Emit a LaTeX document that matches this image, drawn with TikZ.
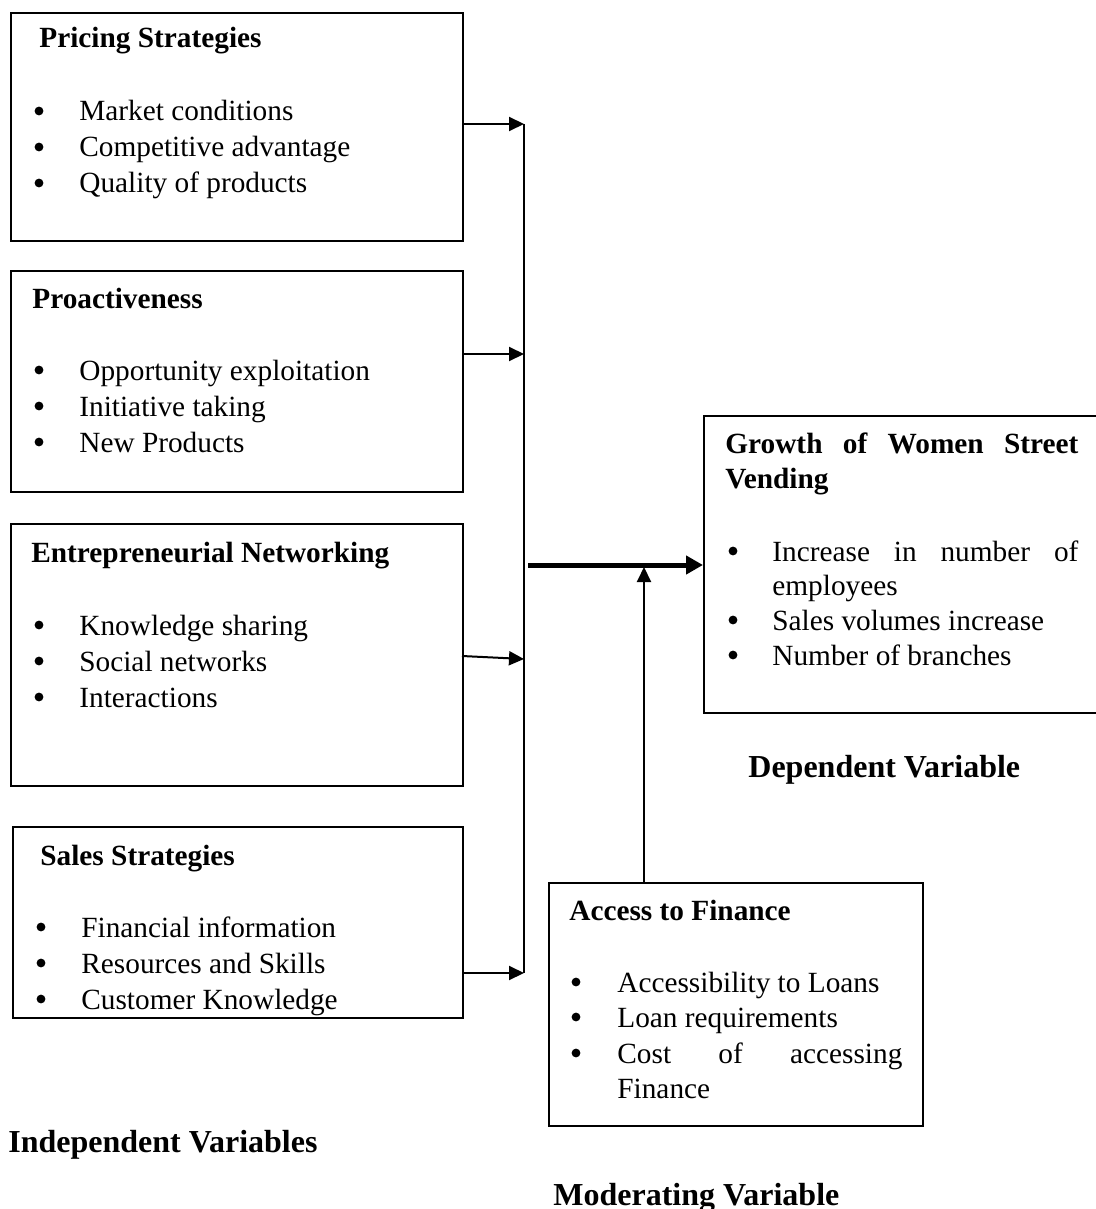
\documentclass[tikz,border=0pt]{standalone}
\usepackage{fontspec}
\setmainfont{Liberation Serif}
\usetikzlibrary{arrows.meta}
\begin{document}
\begin{tikzpicture}[x=0.5pt,y=-0.5pt,
  box/.style={draw,line width=1pt,rectangle,anchor=north west,inner sep=0pt},
  txt/.style={anchor=base west,inner sep=0pt,font=\fontsize{14.65}{17}\selectfont},
  head/.style={anchor=base west,inner sep=0pt,font=\fontsize{14.65}{17}\selectfont\bfseries},
  bul/.style={circle,fill=black,inner sep=0pt,minimum size=4.4pt,yshift=5pt},
  lab/.style={anchor=base west,inner sep=0pt,font=\fontsize{16}{19}\selectfont\bfseries},
  conn/.style={line width=1pt},
  arr/.style={line width=1pt,-{Triangle[length=7.5pt,width=7pt]}},
  thickarr/.style={line width=2.5pt,-{Triangle[length=8.5pt,width=9pt]}}
]
\useasboundingbox (0,0) rectangle (1096,1209);

% boxes
\node[box,minimum width=226pt,minimum height=114pt] (b1) at (10,12) {};
\node[box,minimum width=226pt,minimum height=110.5pt] (b2) at (10,270) {};
\node[box,minimum width=226pt,minimum height=131pt] (b3) at (10,523) {};
\node[box,minimum width=225pt,minimum height=95.5pt] (b4) at (12,826) {};
\node[box,minimum width=187pt,minimum height=121.5pt] (b5) at (548,882) {};
\node[box,minimum width=198pt,minimum height=148.5pt] (b6) at (703,415) {};

% box 1
\node[head] (h1) at (39,48) {Pricing Strategies};
\node[bul] (p1a) at (39,121) {};
\node[txt] (t1a) at (79,121) {Market conditions};
\node[bul] (p1b) at (39,157) {};
\node[txt] (t1b) at (79,157) {Competitive advantage};
\node[bul] (p1c) at (39,193) {};
\node[txt] (t1c) at (79,193) {Quality of products};

% box 2
\node[head] (h2) at (32,308) {Proactiveness};
\node[bul] (p2a) at (39,380) {};
\node[txt] (t2a) at (79,380) {Opportunity exploitation};
\node[bul] (p2b) at (39,416) {};
\node[txt] (t2b) at (79,416) {Initiative taking};
\node[bul] (p2c) at (39,452) {};
\node[txt] (t2c) at (79,452) {New Products};

% box 3
\node[head] (h3) at (31,562) {Entrepreneurial Networking};
\node[bul] (p3a) at (39,635) {};
\node[txt] (t3a) at (79,635) {Knowledge sharing};
\node[bul] (p3b) at (39,671) {};
\node[txt] (t3b) at (79,671) {Social networks};
\node[bul] (p3c) at (39,707) {};
\node[txt] (t3c) at (79,707) {Interactions};

% box 4
\node[head] (h4) at (40,865) {Sales Strategies};
\node[bul] (p4a) at (41,937) {};
\node[txt] (t4a) at (81,937) {Financial information};
\node[bul] (p4b) at (41,973) {};
\node[txt] (t4b) at (81,973) {Resources and Skills};
\node[bul] (p4c) at (41,1009) {};
\node[txt] (t4c) at (81,1009) {Customer Knowledge};

% box 5
\node[head] (h5) at (569,920) {Access to Finance};
\node[bul] (p5a) at (576,992) {};
\node[txt] (t5a) at (617,992) {Accessibility to Loans};
\node[bul] (p5b) at (576,1027) {};
\node[txt] (t5b) at (617,1027) {Loan requirements};
\node[bul] (p5c) at (576,1063) {};
\node[txt] (t5c) at (617,1063) {\hbox to 142.5pt{Cost\hfill of\hfill accessing}};
\node[txt] (t5d) at (617,1098) {Finance};

% box 6
\node[head] (h6a) at (725,453) {\hbox to 176.5pt{Growth\hfill of\hfill Women\hfill Street}};
\node[head] (h6b) at (725,488) {Vending};
\node[bul] (p6a) at (733,561) {};
\node[txt] (t6a) at (772,561) {\hbox to 153pt{Increase\hfill in\hfill number\hfill of}};
\node[txt] (t6b) at (772,595) {employees};
\node[bul] (p6c) at (733,630) {};
\node[txt] (t6c) at (772,630) {Sales volumes increase};
\node[bul] (p6d) at (733,665) {};
\node[txt] (t6d) at (772,665) {Number of branches};

% labels
\node[lab] (l1) at (8,1152) {Independent Variables};
\node[lab] (l2) at (748,777) {Dependent Variable};
\node[lab] (l3) at (553,1205) {Moderating Variable};

% connectors
\coordinate (v1) at (524,124);
\coordinate (v2) at (524,354);
\coordinate (v3) at (524,659);
\coordinate (v4) at (524,973);
\coordinate (s3) at (462,656);
\coordinate (g1) at (528,565);
\coordinate (m) at (644,567);

\draw[conn] (v1) -- (v4);
\draw[arr] (b1.east |- v1) -- (v1);
\draw[arr] (b2.east |- v2) -- (v2);
\draw[arr] (s3) -- (v3);
\draw[arr] (b4.east |- v4) -- (v4);
\draw[thickarr] (g1) -- (b6.west |- g1);
\draw[arr] (m |- b5.north) -- (m);
\end{tikzpicture}
\end{document}
